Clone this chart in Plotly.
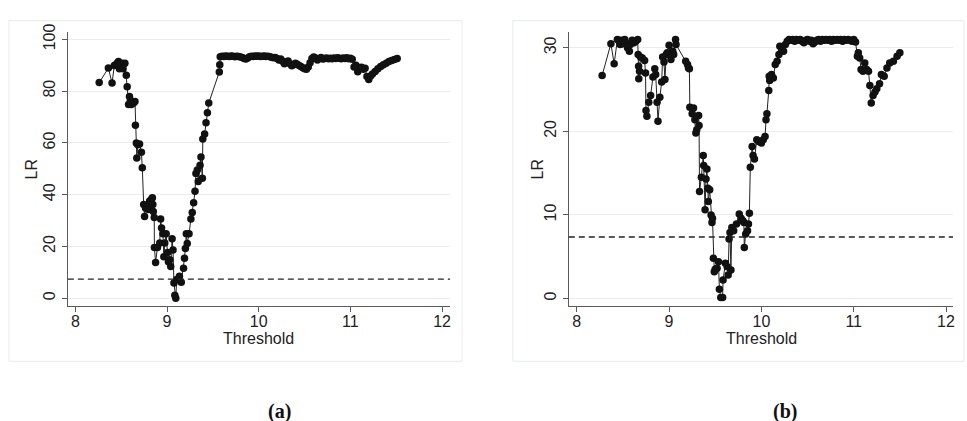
import plotly.graph_objects as go

W, H = 967, 421

# ---- Panel (a): likelihood-ratio statistic over candidate thresholds ----
thr_a = [8.26, 8.36, 8.40, 8.425, 8.44, 8.46, 8.47, 8.48, 8.50, 8.51, 8.52, 8.53, 8.54,
         8.555, 8.565, 8.58, 8.59, 8.60, 8.61, 8.62, 8.635, 8.65, 8.655, 8.665, 8.67,
         8.68, 8.70, 8.72, 8.73, 8.745, 8.755, 8.765, 8.78, 8.795, 8.81, 8.83, 8.84,
         8.845, 8.85, 8.86, 8.862, 8.875, 8.895, 8.92, 8.93, 8.94, 8.955, 8.965, 8.975,
         8.99, 9.005, 9.015, 9.03, 9.04, 9.055, 9.065, 9.075, 9.085, 9.095, 9.105,
         9.135, 9.155, 9.18, 9.19, 9.20, 9.21, 9.22, 9.24, 9.26, 9.275, 9.29, 9.305,
         9.315, 9.33, 9.34, 9.36, 9.37, 9.385, 9.39, 9.41, 9.425, 9.44, 9.455, 9.57,
         9.575, 9.58, 9.60, 9.62, 9.64, 9.66, 9.68, 9.70, 9.72, 9.74, 9.76, 9.78, 9.80,
         9.82, 9.84, 9.86, 9.88, 9.90, 9.92, 9.94, 9.96, 9.98, 10.00, 10.02, 10.04,
         10.06, 10.08, 10.10, 10.12, 10.14, 10.16, 10.18, 10.20, 10.22, 10.24, 10.26,
         10.28, 10.30, 10.32, 10.34, 10.36, 10.38, 10.40, 10.42, 10.44, 10.46, 10.48,
         10.50, 10.52, 10.54, 10.56, 10.58, 10.60, 10.62, 10.64, 10.66, 10.68, 10.70,
         10.72, 10.74, 10.76, 10.78, 10.80, 10.82, 10.84, 10.86, 10.88, 10.90, 10.92,
         10.94, 10.96, 10.98, 11.00, 11.02, 11.04, 11.06, 11.08, 11.10, 11.12, 11.14,
         11.16, 11.18, 11.20, 11.22, 11.24, 11.27, 11.30, 11.33, 11.36, 11.39, 11.42,
         11.45, 11.48, 11.51]
lr_a = [83.3, 88.9, 83.1, 89.9, 90.2, 91.0, 91.4, 88.6, 90.6, 90.8, 88.6, 90.6, 90.8,
        86.1, 81.7, 74.8, 77.9, 76.5, 74.8, 75.8, 75.4, 76.0, 66.8, 60.0, 54.2,
        59.3, 59.6, 56.4, 50.4, 36.2, 31.6, 34.8, 35.6, 34.3, 37.5, 38.2, 38.8,
        36.2, 33.5, 31.2, 19.6, 13.8, 19.6, 21.3, 30.6, 27.1, 24.9, 16.0, 21.3,
        24.9, 17.6, 14.1, 14.8, 12.2, 23.0, 18.6, 5.9, 1.1, 0.0, 7.2,
        8.5, 6.2, 11.6, 15.4, 19.2, 24.9, 21.1, 24.9, 30.6, 33.1, 36.9, 41.3,
        48.2, 49.5, 45.1, 51.4, 54.5, 46.3, 61.5, 63.4, 67.8, 71.6, 75.4, 87.4,
        90.2, 93.3, 93.5, 93.4, 93.6, 93.5, 93.4, 93.6, 93.5, 93.3, 93.5, 93.4, 93.2,
        93.0, 92.6, 92.4, 92.8, 93.3, 93.5, 93.4, 93.6, 93.5, 93.6, 93.4, 93.5,
        93.6, 93.4, 93.5, 93.3, 93.1, 92.9, 93.0, 92.6, 92.0, 92.4, 91.5,
        90.6, 91.2, 91.6, 90.6, 89.8, 90.2, 90.8, 90.4, 89.9, 89.5, 89.0,
        88.6, 88.4, 89.3, 91.0, 92.6, 93.2, 92.8, 92.0, 92.6, 93.0, 92.4,
        92.6, 92.8, 92.5, 92.7, 92.5, 92.8, 92.6, 92.9, 92.7, 92.5, 92.8,
        92.6, 92.9, 92.5, 92.7, 92.3, 89.3, 90.0, 87.5, 88.8, 89.2, 88.4,
        88.8, 85.6, 84.5, 85.8, 86.6, 87.6, 88.6, 89.5, 90.2, 90.8, 91.4,
        91.8, 92.2, 92.6]

# ---- Panel (b) ----
thr_b = [8.275, 8.37, 8.405, 8.44, 8.46, 8.47, 8.48, 8.50, 8.52, 8.53, 8.55, 8.57, 8.58,
         8.60, 8.62, 8.64, 8.66, 8.665, 8.67, 8.672, 8.68, 8.69, 8.71, 8.735, 8.745,
         8.75, 8.76, 8.78, 8.80, 8.825, 8.845, 8.855, 8.87, 8.88, 8.90, 8.92, 8.93,
         8.945, 8.955, 8.97, 8.98, 9.00, 9.02, 9.04, 9.05, 9.07, 9.075, 9.18, 9.20,
         9.21, 9.22, 9.225, 9.25, 9.265, 9.28, 9.29, 9.30, 9.32, 9.325, 9.33, 9.35,
         9.37, 9.375, 9.39, 9.40, 9.41, 9.42, 9.425, 9.44, 9.455, 9.465, 9.47, 9.48,
         9.49, 9.50, 9.52, 9.535, 9.545, 9.56, 9.58, 9.585, 9.61, 9.63, 9.64, 9.65,
         9.66, 9.67, 9.68, 9.70, 9.73, 9.76, 9.78, 9.80, 9.81, 9.815, 9.83, 9.85,
         9.86, 9.87, 9.88, 9.90, 9.91, 9.925, 9.95, 9.97, 10.00, 10.02, 10.04, 10.05,
         10.06, 10.08, 10.085, 10.09, 10.11, 10.13, 10.15, 10.17, 10.19, 10.20, 10.22,
         10.24, 10.26, 10.28, 10.30, 10.32, 10.34, 10.36, 10.38, 10.40, 10.42, 10.44,
         10.46, 10.48, 10.50, 10.52, 10.54, 10.56, 10.58, 10.60, 10.62, 10.64, 10.66,
         10.68, 10.70, 10.72, 10.74, 10.76, 10.78, 10.80, 10.82, 10.84, 10.86, 10.88,
         10.90, 10.92, 10.94, 10.96, 10.98, 11.00, 11.02, 11.04, 11.05, 11.065, 11.08,
         11.10, 11.12, 11.14, 11.16, 11.175, 11.19, 11.21, 11.23, 11.25, 11.28, 11.30,
         11.33, 11.36, 11.39, 11.43, 11.47, 11.50]
lr_b = [26.7, 30.5, 28.1, 31.0, 30.8, 30.4, 30.9, 30.5, 31.0, 30.6, 30.0, 29.6, 30.4,
        30.9, 30.6, 30.8, 31.0, 29.2, 27.8, 26.3, 27.2, 28.9, 28.8, 28.5, 27.0,
        22.5, 21.8, 23.5, 24.3, 26.5, 27.5, 26.8, 23.5, 21.2, 24.1, 25.9, 28.9,
        28.3, 26.2, 29.2, 29.4, 30.3, 28.6, 29.6, 29.2, 31.0, 30.4, 28.4, 28.0,
        27.6, 27.5, 22.9, 22.1, 22.8, 21.4, 19.8, 20.2, 21.9, 20.7, 12.8, 14.5,
        17.1, 15.9, 10.6, 14.3, 15.5, 13.2, 11.6, 13.0, 10.0, 9.1, 9.6, 4.8,
        3.2, 3.5, 3.6, 4.4, 1.1, 0.1, 0.1, 2.2, 4.2, 3.8, 2.8, 7.1,
        7.9, 3.4, 8.5, 8.1, 8.9, 10.1, 9.6, 9.3, 9.1, 6.1, 7.7, 8.1,
        8.9, 10.2, 15.7, 18.2, 17.1, 16.7, 19.0, 18.8, 18.6, 19.0, 19.4, 21.4,
        22.1, 24.9, 26.6, 26.1, 26.8, 26.4, 28.0, 28.4, 29.2, 30.2, 29.8,
        29.6, 30.4, 30.8, 31.0, 30.9, 31.0, 30.8, 31.0, 30.9, 31.0, 30.8,
        30.6, 30.9, 31.0, 30.8, 30.9, 30.5, 30.7, 30.9, 31.0, 30.8, 31.0,
        30.9, 31.0, 30.9, 31.0, 30.8, 31.0, 30.9, 31.0, 30.9, 31.0, 30.8,
        31.0, 30.9, 31.0, 30.9, 30.8, 31.0, 30.7, 29.0, 29.4, 28.8, 27.4,
        27.2, 28.2, 27.4, 27.2, 25.5, 23.4, 24.3, 24.7, 25.1, 25.7, 26.8,
        26.6, 27.6, 28.2, 28.4, 29.0, 29.4]

crit_value = 7.35
x_ticks = [8, 9, 10, 11, 12]
y_ticks_a = [0, 20, 40, 60, 80, 100]
y_ticks_b = [0, 10, 20, 30]
panel_tags = ["(a)", "(b)"]

FONT = "Liberation Sans, Arial, sans-serif"
GRID = "#E8EEF0"
AXIS = "#5a5a5a"
INK = "#111111"


def px_x(p):
    return p / W


def px_y(p):
    return 1 - p / H


fig = go.Figure()

for thr, lr, xa, ya in [(thr_a, lr_a, "x", "y"), (thr_b, lr_b, "x2", "y2")]:
    fig.add_trace(go.Scatter(
        x=thr, y=lr, xaxis=xa, yaxis=ya, mode="lines+markers",
        line=dict(color="#222222", width=1),
        marker=dict(size=7.5, color=INK, line=dict(width=0)),
        showlegend=False, hoverinfo="x+y"))


def xaxis_cfg(domain, rng):
    return dict(domain=domain, range=rng, tickmode="array", tickvals=x_ticks,
                showgrid=False, zeroline=False, showline=True, linecolor=AXIS,
                linewidth=1, ticks="outside", ticklen=5, tickcolor=AXIS,
                ticklabelstandoff=-4,
                tickfont=dict(family=FONT, size=16, color="#222"), fixedrange=True)


def yaxis_cfg(domain, rng, ticks):
    return dict(domain=domain, range=rng, tickmode="array", tickvals=ticks,
                showgrid=True, gridcolor=GRID, gridwidth=1, zeroline=False,
                showline=True, linecolor=AXIS, linewidth=1, ticks="outside",
                ticklen=5, tickcolor=AXIS, tickangle=-90,
                tickfont=dict(family=FONT, size=16, color="#222"), fixedrange=True)


y_dom = [px_y(303), px_y(24)]
fig.update_layout(
    width=W, height=H, margin=dict(l=0, r=0, t=0, b=0),
    paper_bgcolor="white", plot_bgcolor="white",
    xaxis=xaxis_cfg([px_x(68), px_x(451)], [7.918, 12.087]),
    yaxis=yaxis_cfg(y_dom, [-2.84, 102.65], y_ticks_a),
    xaxis2=xaxis_cfg([px_x(570), px_x(955)], [7.914, 12.076]),
    yaxis2=yaxis_cfg(y_dom, [-0.855, 31.84], y_ticks_b),
)
fig.layout.xaxis2.anchor = "y2"
fig.layout.yaxis2.anchor = "x2"

shapes = []
# light frames around each graph region
for x0, x1 in [(9, 463), (514, 966)]:
    shapes.append(dict(type="rect", xref="paper", yref="paper",
                       x0=px_x(x0), x1=px_x(x1), y0=px_y(360), y1=px_y(12),
                       line=dict(color="#E6EBED", width=1), fillcolor="rgba(0,0,0,0)",
                       layer="below"))
# critical value reference lines
for xr, yr in [("x domain", "y"), ("x2 domain", "y2")]:
    shapes.append(dict(type="line", xref=xr, yref=yr, x0=0, x1=1,
                       y0=crit_value, y1=crit_value,
                       line=dict(color="#222222", width=1.3, dash="6px,4px")))
fig.update_layout(shapes=shapes)

ann = []
for cx_lr, cx_th, cx_tag, tag in [(32, 259, 280, panel_tags[0]),
                                  (539, 763, 787, panel_tags[1])]:
    ann.append(dict(text="LR", xref="paper", yref="paper", x=px_x(cx_lr), y=px_y(164),
                    xanchor="center", yanchor="middle", textangle=-90, showarrow=False,
                    font=dict(family=FONT, size=16, color="#222")))
    ann.append(dict(text="Threshold", xref="paper", yref="paper", x=px_x(cx_th),
                    y=px_y(337), xanchor="center", yanchor="middle", showarrow=False,
                    font=dict(family=FONT, size=16, color="#222")))
    ann.append(dict(text="<b>" + tag + "</b>", xref="paper", yref="paper", x=px_x(cx_tag),
                    y=px_y(411), xanchor="center", yanchor="middle", showarrow=False,
                    font=dict(family="Liberation Serif, Times New Roman, serif",
                              size=20, color="#111")))
fig.update_layout(annotations=ann)

fig.write_html("out.html")
